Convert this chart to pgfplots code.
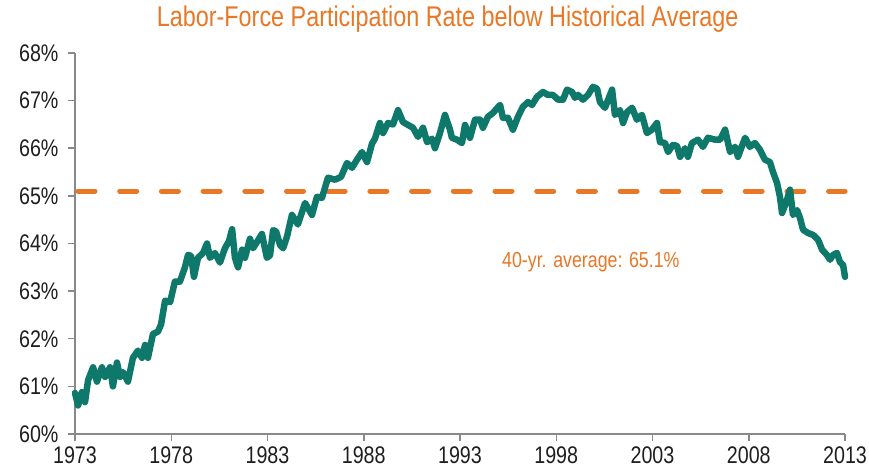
\documentclass[border=0pt]{standalone}
\usepackage{fontspec}
\setmainfont{Liberation Sans}[FakeStretch=0.82]
\usepackage{pgfplots}
\usepackage{pgfplotstable}
\pgfplotsset{compat=1.18}
\definecolor{lineteal}{RGB}{14,120,106}
\definecolor{avgorange}{RGB}{232,119,38}
\definecolor{axisgray}{RGB}{137,137,137}
\definecolor{labelgray}{RGB}{30,30,30}

\pgfplotstableread{
year rate
1973.00 60.86
1973.16 60.60
1973.36 60.88
1973.52 60.67
1973.68 61.13
1973.94 61.40
1974.14 61.10
1974.40 61.40
1974.56 61.20
1974.82 61.40
1974.97 61.00
1975.18 61.50
1975.34 61.20
1975.49 61.30
1975.75 61.10
1976.01 61.60
1976.27 61.75
1976.48 61.60
1976.64 61.87
1976.79 61.60
1977.05 62.10
1977.31 62.15
1977.47 62.30
1977.68 62.80
1977.94 62.77
1978.19 63.20
1978.45 63.20
1978.71 63.50
1978.87 63.76
1979.03 63.74
1979.18 63.30
1979.39 63.70
1979.65 63.80
1979.86 64.00
1980.01 63.70
1980.27 63.80
1980.53 63.60
1980.79 63.90
1981.00 64.05
1981.16 64.30
1981.31 63.70
1981.47 63.50
1981.68 63.87
1981.83 63.70
1982.09 64.10
1982.25 63.90
1982.48 64.05
1982.71 64.20
1982.97 63.70
1983.13 63.75
1983.29 64.28
1983.45 64.25
1983.65 63.97
1983.81 63.90
1984.01 64.14
1984.27 64.60
1984.58 64.40
1984.95 64.85
1985.31 64.60
1985.57 64.98
1985.83 64.96
1986.14 65.38
1986.51 65.34
1986.82 65.40
1987.13 65.69
1987.39 65.59
1987.65 65.76
1987.91 65.92
1988.17 65.71
1988.43 66.10
1988.58 66.20
1988.84 66.53
1989.00 66.32
1989.26 66.53
1989.52 66.50
1989.78 66.80
1990.04 66.55
1990.30 66.49
1990.56 66.43
1990.82 66.24
1991.08 66.43
1991.29 66.13
1991.55 66.20
1991.70 66.00
1991.96 66.32
1992.22 66.70
1992.48 66.39
1992.58 66.22
1992.84 66.18
1993.10 66.11
1993.26 66.49
1993.52 66.22
1993.78 66.60
1994.04 66.60
1994.19 66.43
1994.45 66.66
1994.71 66.74
1995.08 66.91
1995.23 66.64
1995.49 66.64
1995.75 66.39
1996.01 66.66
1996.27 66.87
1996.53 66.97
1996.74 66.91
1997.00 67.08
1997.31 67.18
1997.57 67.12
1997.83 67.12
1998.09 67.02
1998.35 67.02
1998.56 67.23
1998.82 67.18
1998.97 67.06
1999.13 67.12
1999.39 67.02
1999.65 67.12
1999.91 67.29
2000.12 67.25
2000.27 66.97
2000.53 66.85
2000.90 67.23
2001.05 66.70
2001.31 66.80
2001.47 66.53
2001.68 66.76
2001.94 66.85
2002.19 66.60
2002.45 66.70
2002.71 66.32
2002.97 66.39
2003.23 66.53
2003.39 66.13
2003.65 66.11
2003.81 65.92
2004.06 66.07
2004.27 66.05
2004.43 65.82
2004.69 66.00
2004.84 65.82
2005.05 66.11
2005.36 66.18
2005.62 66.03
2005.88 66.22
2006.25 66.18
2006.51 66.18
2006.77 66.39
2007.03 65.92
2007.29 66.03
2007.44 65.82
2007.81 66.22
2008.06 66.03
2008.32 66.11
2008.58 65.97
2008.84 65.76
2009.10 65.71
2009.26 65.50
2009.47 65.27
2009.62 64.98
2009.73 64.64
2009.99 64.92
2010.14 65.13
2010.30 64.60
2010.51 64.70
2010.66 64.54
2010.82 64.29
2011.08 64.22
2011.34 64.18
2011.60 64.08
2011.81 63.87
2012.06 63.76
2012.22 63.66
2012.38 63.76
2012.58 63.80
2012.74 63.61
2012.90 63.55
2013.00 63.30
}\lfpr

\pgfplotstableread{
year rate
1973 65.1
2013 65.1
}\avg

\begin{document}
\begin{tikzpicture}
\begin{axis}[
  at={(0pt,0pt)}, anchor=south west,
  scale only axis,
  width=770pt, height=381pt,
  xmin=1973, xmax=2013,
  ymin=60, ymax=68,
  clip=false,
  axis x line*=bottom,
  axis y line*=left,
  axis line style={axisgray, line width=1.5pt, -},
  tick style={axisgray, line width=1.5pt},
  tick align=outside,
  major tick length=7pt,
  xtick={1973,1978,1983,1988,1993,1998,2003,2008,2013},
  xticklabels={1973,1978,1983,1988,1993,1998,2003,2008,2013},
  ytick={60,61,62,63,64,65,66,67,68},
  yticklabels={60\%,61\%,62\%,63\%,64\%,65\%,66\%,67\%,68\%},
  /pgf/number format/assume math mode=true,
  ticklabel style={font=\fontsize{24}{28}\selectfont, text=labelgray},
  yticklabel style={anchor=east, xshift=-6pt},
  xticklabel style={anchor=north, yshift=-2pt},
  title={Labor-Force Participation Rate below Historical Average},
  title style={font=\fontsize{28.5}{32}\selectfont, text=avgorange,
    at={(axis description cs:0.484,1)}, anchor=base, yshift=20pt},
]
\addplot[avgorange, line width=5pt, line cap=round,
  dash pattern=on 17pt off 24.7pt, dash phase=-3pt] table[x=year, y=rate] {\avg};
\addplot[lineteal, line width=6.5pt, line join=round, line cap=round] table[x=year, y=rate] {\lfpr};
\node[anchor=base west, text=avgorange, font=\fontsize{21.7}{25}\selectfont, inner sep=0pt]
  at (axis cs:1995.18,63.49) {40-yr. average: 65.1\%};
\end{axis}
\pgfresetboundingbox
\path[use as bounding box] (-75pt,-39pt) rectangle (794pt,434pt);
\end{tikzpicture}
\end{document}
